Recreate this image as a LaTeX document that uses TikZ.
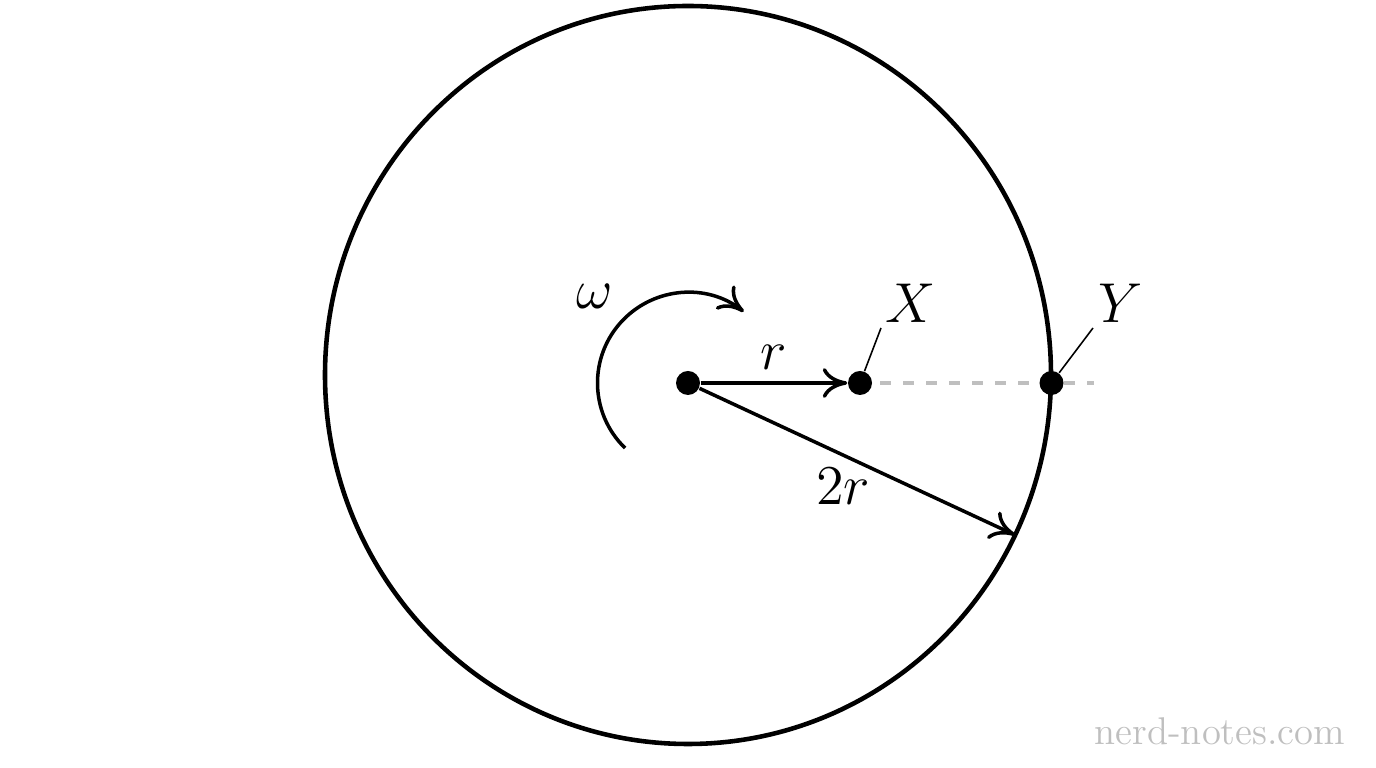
\RequirePackage{fix-cm}
\documentclass[tikz,border=0pt]{standalone}
\usetikzlibrary{arrows.meta, positioning}
\tikzset{
  dot/.style={circle, fill=black, inner sep=0pt, minimum size=0.24cm},
  lbl/.style={font=\fontsize{16}{19}\selectfont},
  >={Computer Modern Rightarrow[length=7pt,width=8.5pt]},
}

\begin{document}
\begin{tikzpicture}
    \useasboundingbox (0,0) rectangle (13.76,7.68);

    % Disc
    \draw[line width=1.3pt] (6.88,3.93) ellipse [x radius=3.63, y radius=3.69];

    % Centre and the point X
    \node[dot] (O) at (6.88,3.85) {};
    \node[dot] (X) at (8.60,3.85) {};
    \coordinate (end) at (10.94,3.85);
    \coordinate (rim) at (10.15,2.33);

    % Dashed line out to the rim
    \draw[black!25, line width=1pt, dash pattern=on 0.11cm off 0.12cm, shorten <=0.075cm] (X) -- (end);
    \node[dot] (Y) at (10.515,3.85) {};

    % Radii
    \draw[->, line width=1pt] (O) -- (X) node[lbl, midway, above] {$r$};
    \draw[->, line width=1pt] (O) -- (rim) node[lbl, pos=0.455, below] {$2r$};

    % Rotation
    \draw[->, line width=1pt] ([shift={(226:0.905)}]O.center) arc[start angle=226, end angle=52, radius=0.905];
    \node[lbl] (w) at (5.95,4.72) {$\omega$};

    % Labels X and Y
    \node[lbl, inner sep=0pt] (Xlab) at (9.11,4.65) {$X$};
    \node[lbl, inner sep=0pt] (Ylab) at (11.21,4.65) {$Y$};
    \coordinate (Xtip) at (8.81,4.40);
    \coordinate (Ytip) at (10.93,4.40);
    \draw[line width=0.45pt] (X) -- (Xtip);
    \draw[line width=0.45pt] (Y) -- (Ytip);

    % Watermark
    \node[black!25, font=\fontsize{11}{13}\selectfont] (wm) at (12.20,0.365) {nerd-notes.com};

\end{tikzpicture}
\end{document}
